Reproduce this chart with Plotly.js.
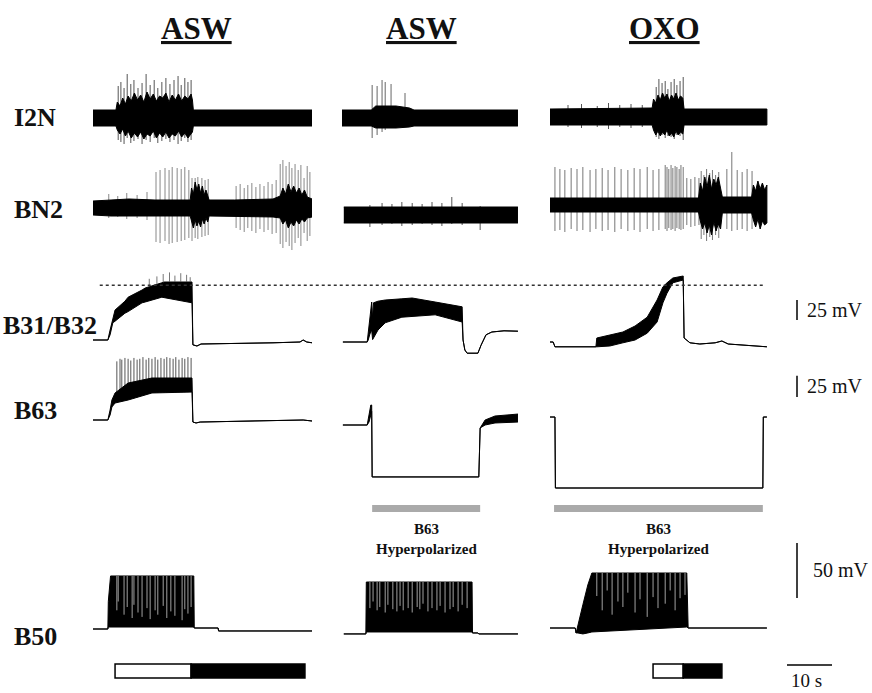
<!DOCTYPE html>
<html><head><meta charset="utf-8">
<script src="https://cdn.plot.ly/plotly-3.0.1.min.js"></script>
<style>html,body{margin:0;padding:0;background:#fff}#chart{width:872px;height:693px}</style>
</head><body><div id="chart"></div>
<script>
// ================= DATA (time in s, extracellular in a.u., intracellular in mV) =================
const columnTitles = ['ASW', 'ASW', 'OXO'];
const rowLabels = ['I2N', 'BN2', 'B31/B32', 'B63', 'B50'];

// --- I2N (extracellular) ---
const i2n1T  = [0, 5.1, 5.4, 6.0, 6.6, 7.2, 7.8, 8.5, 9.2, 9.9, 10.6, 11.3, 12.0, 12.7, 13.4, 14.1, 14.8, 15.5, 16.2, 16.9, 17.6, 18.3, 19.0, 19.7, 20.4, 21.1, 21.8, 22.1, 22.3, 48.7];
const i2n1Hi = [8, 8, 16, 12, 20, 14, 22, 17, 25, 18, 23, 16, 26, 19, 24, 17, 22, 20, 25, 16, 23, 18, 24, 17, 22, 19, 24, 18, 8, 8];
const i2n1Lo = [-8, -8, -12, -16, -11, -18, -13, -20, -15, -19, -14, -21, -16, -18, -13, -20, -15, -19, -14, -20, -16, -18, -13, -19, -15, -20, -16, -14, -8, -8];
const i2n1SpkT  = [5.6, 6.2, 6.9, 7.6, 8.4, 9.1, 10.0, 10.9, 11.8, 12.7, 13.6, 14.4, 15.3, 16.2, 17.1, 18.0, 18.9, 19.6, 20.4, 21.1, 21.8];
const i2n1SpkUp = [32, 36, 30, 44, 34, 38, 30, 35, 44, 33, 38, 30, 36, 40, 34, 38, 42, 33, 40, 36, 38];
const i2n1SpkDn = [-22, -24, -26, -20, -25, -23, -21, -26, -22, -24, -20, -25, -23, -21, -24, -22, -26, -23, -20, -24, -22];

const i2n2T  = [0, 6.5, 7.5, 12, 15, 16, 39.1];
const i2n2Hi = [8, 8, 12, 12, 10, 8, 8];
const i2n2Lo = [-8, -8, -10, -10, -9, -8, -8];
const i2n2SpkT  = [6.7, 7.8, 8.9, 9.6, 10.9, 14.0];
const i2n2SpkUp = [33, 32, 38, 36, 34, 25];
const i2n2SpkDn = [-20, -17, -14, -12, -10, -8];

const i2n3T  = [0, 20, 22.7, 23.0, 23.5, 24.0, 24.5, 25.0, 25.5, 26.0, 26.5, 27.0, 27.5, 28.0, 28.5, 29.0, 29.5, 29.8, 48.2];
const i2n3Hi = [8, 9, 9, 18, 14, 22, 17, 24, 19, 23, 16, 22, 18, 24, 17, 21, 19, 8, 8];
const i2n3Lo = [-8, -8, -8, -13, -18, -14, -19, -15, -18, -13, -19, -16, -20, -14, -18, -15, -17, -8, -8];
const i2n3SpkT  = [4, 7, 10.5, 13, 15.5, 18, 20.5, 23.6, 24.2, 24.9, 25.6, 26.2, 26.9, 27.6, 28.2, 28.9, 29.6];
const i2n3SpkUp = [12, 13, 11, 14, 12, 13, 12, 30, 38, 34, 36, 28, 35, 38, 32, 36, 40];
const i2n3SpkDn = [-10, -11, -10, -12, -10, -11, -10, -20, -22, -18, -21, -19, -20, -22, -18, -19, -23];

// --- BN2 (extracellular) ---
const bn21T  = [0, 4, 8, 13.8, 21.6, 21.9, 22.3, 22.7, 23.1, 23.5, 23.9, 24.3, 24.7, 25.1, 25.5, 25.8, 31.5, 40, 41.6, 42.2, 42.8, 43.4, 44.0, 44.6, 45.2, 45.8, 46.4, 47.0, 47.6, 48.7];
const bn21Hi = [7, 8, 9, 8, 8, 20, 14, 26, 18, 24, 15, 22, 13, 18, 12, 8, 8, 9, 12, 20, 14, 24, 16, 22, 15, 20, 13, 18, 11, 9];
const bn21Lo = [-7, -8, -8, -8, -8, -14, -20, -12, -18, -13, -19, -11, -16, -10, -14, -8, -8, -9, -10, -16, -12, -20, -14, -18, -12, -16, -11, -14, -10, -9];
const bn21SpkT  = [3.5, 5.5, 7.5, 9.8, 12.0,
  14.0, 14.9, 16.0, 16.9, 17.6, 18.7, 19.6, 20.4, 21.3, 22.0, 22.7, 23.3, 24.2, 24.9, 25.6,
  31.8, 32.7, 33.6, 34.4, 35.3, 36.2, 37.1, 38.0, 38.9, 39.8, 40.7, 41.6, 42.2, 42.9, 43.6, 44.2, 44.9, 45.6, 46.2, 46.9, 47.6, 48.2];
const bn21SpkUp = [14, 12, 15, 13, 16,
  36, 38, 40, 38, 41, 40, 39, 41, 38, 30, 30, 31, 30, 28, 29,
  22, 24, 20, 23, 25, 21, 24, 22, 26, 24, 28, 44, 48, 42, 46, 40, 44, 38, 43, 30, 42, 36];
const bn21SpkDn = [-10, -9, -11, -10, -12,
  -34, -35, -33, -36, -35, -34, -33, -32, -30, -33, -30, -31, -29, -28, -27,
  -20, -22, -24, -20, -23, -25, -21, -24, -22, -26, -25, -36, -40, -34, -38, -42, -35, -30, -38, -25, -33, -28];

const bn22T  = [0.4, 39.1];
const bn22Hi = [8, 8];
const bn22Lo = [-8, -8];
const bn22SpkT  = [6.2, 8.9, 11.1, 13.3, 15.6, 17.8, 20.0, 22.2, 24.4, 26.7, 30.7];
const bn22SpkUp = [10, 12, 11, 13, 12, 11, 13, 12, 18, 12, 9];
const bn22SpkDn = [-12, -10, -9, -11, -10, -9, -10, -11, -9, -10, -15];

const bn23T  = [0, 33.0, 33.4, 33.9, 34.4, 34.9, 35.4, 35.9, 36.4, 36.9, 37.4, 37.9, 38.3, 44.8, 45.2, 45.7, 46.2, 46.7, 47.2, 47.7, 48.2];
const bn23Hi = [7, 7, 22, 14, 28, 18, 30, 16, 26, 20, 28, 15, 8, 8, 20, 14, 24, 16, 22, 15, 20];
const bn23Lo = [-7, -7, -16, -24, -18, -28, -20, -30, -17, -26, -19, -24, -8, -8, -15, -22, -14, -24, -16, -20, -18];
const bn23SpkT  = [1.1, 2.2, 3.3, 4.7, 6.0, 7.3, 8.9, 10.2, 11.6, 12.9, 14.4, 15.8, 17.3, 18.7, 20.0, 21.6, 22.9, 24.2,
  25.6, 26.0, 26.4, 26.9, 27.3, 27.8, 28.2, 28.7, 29.1, 29.6, 30.4, 31.3, 32.2, 33.1,
  33.6, 34.2, 34.8, 35.5, 36.1, 36.8, 37.5,
  39.3, 40.4, 41.6, 42.7, 43.8, 44.9];
const bn23SpkUp = [38, 36, 35, 37, 36, 38, 35, 36, 37, 35, 38, 36, 35, 37, 36, 38, 35, 36,
  40, 38, 36, 40, 37, 39, 38, 36, 40, 38, 27, 26, 28, 27,
  34, 30, 36, 32, 35, 30, 33,
  36, 53, 35, 33, 36, 34];
const bn23SpkDn = [-26, -25, -27, -24, -26, -25, -27, -24, -26, -25, -27, -24, -26, -25, -27, -24, -26, -25,
  -24, -26, -23, -25, -24, -26, -23, -24, -25, -24, -20, -22, -21, -20,
  -34, -30, -36, -32, -35, -30, -33,
  -24, -26, -25, -24, -26, -24];

// --- B31/B32 (mV) ---
const b31_1T  = [0, 3.3, 3.8, 4.4, 4.9, 7.1, 7.8, 10.9, 11.6, 15.3, 15.8, 22.0, 22.2, 23.1, 24.0, 40.0, 46.0, 46.7, 47.5, 48.7];
const b31_1Hi = [-52.5, -52.5, -40, -24, -15, -4, 1, 10, 12.5, 19, 20, 20, -58.5, -60, -57.5, -56, -55, -52.5, -55, -56];
const b31_1Lo = [-52.5, -52.5, -46, -31, -29, -19, -17, -6, -5, 1, 1, -6, -58.5, -60, -57.5, -56, -55, -52.5, -55, -56];
const b31_1SpkT  = [12.5, 14.2, 15.6, 17.0, 18.2, 19.5, 20.8, 21.6];
const b31_1SpkPk = [24, 27, 30, 32, 28, 31, 29, 26];

const b31_2T  = [0.2, 5.6, 5.8, 6.2, 6.6, 6.8, 7.0, 8.0, 9.6, 13.3, 15.6, 20.7, 26.7, 26.9, 27.3, 27.8, 30.2, 30.9, 32.0, 33.3, 36.0, 39.1];
const b31_2Hi = [-55, -55, -45, -20, -5, -25, -6, -4, -2.5, -1, 0, -5, -11, -52.5, -65, -69, -69, -59, -46, -42.5, -41, -41.5];
const b31_2Lo = [-55, -55, -53, -45, -40, -52, -50, -40, -31, -24, -23, -21, -30, -52.5, -65, -69, -69, -59, -46, -42.5, -41, -41.5];

const b31_3T  = [0, 0.7, 1.1, 10.2, 10.4, 13.3, 16.2, 18.9, 21.6, 23.8, 25.1, 26.0, 27.3, 29.6, 29.8, 31.1, 33.3, 36.7, 38.2, 39.6, 48.2];
const b31_3Hi = [-55, -55, -61, -61, -50, -46, -42.5, -35, -24, -2.5, 14, 19, 25, 27.5, -50, -56, -57.5, -56, -53.75, -57.5, -61];
const b31_3Lo = [-55, -55, -61, -61, -61, -60, -56, -52.5, -44, -30, -6, 6, 19, 22.5, -50, -56, -57.5, -56, -53.75, -57.5, -61];

const refLevelMV = 16;          // dotted reference level on B31/B32
const refLineT = [1.5, 47.8];   // from col 1 time to col 3 time

// --- B63 (mV) ---
const b63_1T  = [0, 3.3, 3.8, 4.2, 4.9, 7.8, 13.1, 22.0, 22.2, 22.9, 23.8, 34.9, 46.7, 48.7];
const b63_1Hi = [-55, -55, -43.2, -31.5, -23.2, -11.5, -5.6, -5.6, -57.4, -58.5, -57.4, -56.2, -55, -56.2];
const b63_1Lo = [-55, -55, -49.1, -39.7, -35, -31.5, -23.2, -22.1, -57.4, -58.5, -57.4, -56.2, -55, -56.2];
const b63_1SpkT  = [5.3, 6.0, 6.4, 7.1, 7.8, 8.4, 9.1, 9.8, 10.4, 11.1, 11.8, 12.4, 13.1, 13.8, 14.4, 15.1, 15.8, 16.4, 17.1, 17.8, 18.4, 19.1, 19.8, 20.4, 21.1, 21.8];
const b63_1SpkPk = [14, 17, 16, 18, 17, 15, 18, 16, 17, 19, 16, 18, 17, 19, 16, 18, 17, 19, 18, 17, 19, 16, 18, 17, 19, 18];

const b63_2T  = [0.2, 5.6, 6.0, 6.4, 6.6, 6.7, 30.4, 30.7, 31.8, 34.0, 39.1];
const b63_2Hi = [-60.9, -60.9, -49.1, -37.4, -37.4, -122, -122, -64.4, -55, -50.3, -48];
const b63_2Lo = [-60.9, -60.9, -57.4, -49.1, -45, -122, -122, -64.4, -60.9, -58.5, -57.4];

const b63_3T  = [0, 1.1, 1.2, 47.3, 47.4, 48.2];
const b63_3Hi = [-51.5, -51.5, -135, -135, -51.5, -51.5];
const b63_3Lo = [-51.5, -51.5, -135, -135, -51.5, -51.5];

// B63 hyperpolarization periods (s): col 2 and col 3
const hyperColumns = [2, 3];
const hyperStart = [6.7, 0.9];
const hyperEnd   = [30.7, 47.3];
const hyperLabel = 'B63<br>Hyperpolarized';

// --- B50 (mV) ---
const b50_1T  = [0, 3.3, 3.4, 3.9, 22.4, 22.5, 27.8, 27.9, 48.7];
const b50_1Hi = [-55, -55, -30, -6.8, -6.8, -54.1, -54.1, -56.8, -56.8];
const b50_1Lo = [-55, -55, -53.2, -53.2, -53.2, -54.1, -54.1, -56.8, -56.8];
const b50_1GapT = [5.3, 5.6, 6.9, 7.6, 8.7, 9.1, 10.0, 10.9, 12.0, 12.7, 13.8, 14.4, 15.6, 16.4, 17.3, 18.2, 19.8, 20.4, 21.1, 21.8];
const b50_1GapV = [-38, -30, -42, -35, -45, -33, -40, -44, -36, -46, -38, -42, -34, -45, -39, -43, -47, -37, -41, -35];

const b50_2T  = [0.4, 5.3, 5.4, 28.9, 29.0, 30.2, 30.4, 39.1];
const b50_2Hi = [-59.5, -59.5, -12.3, -12.3, -58.6, -58.6, -59.5, -59.5];
const b50_2Lo = [-59.5, -59.5, -57.7, -57.7, -58.6, -58.6, -59.5, -59.5];
const b50_2GapT = [6.2, 6.9, 7.8, 8.4, 9.6, 10.2, 11.3, 12.2, 12.9, 13.6, 14.7, 15.6, 16.7, 17.3, 18.0, 19.1, 20.0, 21.1, 21.8, 22.9, 24.0, 24.7, 25.8, 26.7, 27.8];
const b50_2GapV = [-36, -30, -38, -35, -40, -33, -37, -39, -34, -38, -36, -40, -35, -37, -32, -39, -36, -38, -34, -40, -37, -35, -39, -33, -36];

const b50_3T  = [0, 5.6, 5.8, 6.2, 7.3, 8.4, 9.3, 16.2, 30.4, 30.7, 48.2];
const b50_3Hi = [-54.1, -54.1, -58.6, -51.4, -33, -15, -4.1, -4.1, -4.1, -54.1, -54.1];
const b50_3Lo = [-54.1, -54.1, -58.6, -58.6, -59.5, -58.6, -57.7, -55.9, -53.2, -54.1, -54.1];
const b50_3GapT = [10.4, 11.6, 12.7, 13.8, 15.1, 16.2, 17.3, 18.9, 20.0, 21.6, 22.9, 24.0, 25.6, 26.7, 27.8, 28.9, 30.0];
const b50_3GapV = [-25, -38, -20, -42, -30, -35, -22, -40, -28, -44, -26, -36, -32, -20, -38, -27, -24];

// --- Stimulus bars (s): open phase then filled phase ---
const stimColumns = [1, 3];
const stimStart  = [4.9, 22.9];
const stimSwitch = [21.8, 29.6];
const stimEnd    = [47.1, 38.2];

// --- Scale bars ---
const scaleTimeS = 10;
const scaleMV = [25, 25, 50];        // B31/B32, B63, B50
const scaleBarLowMV = [-27.5, -27.9, -26.8];

// ================= LAYOUT GEOMETRY =================
const W = 872, H = 693, PX_PER_S = 4.5;
const colPx = [[93, 312], [342, 518], [550, 872]];
const px = v => v / W;
const py = v => 1 - v / H;
function xAx(c) {
  return {domain: [px(colPx[c][0]), px(colPx[c][1])], range: [0, (colPx[c][1] - colPx[c][0]) / PX_PER_S],
          visible: false, fixedrange: true};
}
function yAx(top, bot, refPx, refVal, pxPerUnit) {
  return {domain: [py(bot), py(top)],
          range: [refVal - (bot - refPx) / pxPerUnit, refVal + (refPx - top) / pxPerUnit],
          visible: false, fixedrange: true};
}
const XA = ['x', 'x2', 'x3'];

// ================= HELPERS =================
function interp(ts, vs, t) {
  for (let i = 1; i < ts.length; i++) {
    if (t <= ts[i]) { const f = (t - ts[i - 1]) / (ts[i] - ts[i - 1] || 1); return vs[i - 1] + f * (vs[i] - vs[i - 1]); }
  }
  return vs[vs.length - 1];
}
function band(ts, hi, lo, xa, ya, color) {
  return {type: 'scatter', mode: 'lines', x: ts.concat(ts.slice().reverse()), y: hi.concat(lo.slice().reverse()),
          fill: 'toself', fillcolor: color, line: {color: color, width: 1}, xaxis: xa, yaxis: ya, hoverinfo: 'skip'};
}
function sticks(ts, a, b, xa, ya, color, w) {
  const x = [], y = [];
  ts.forEach((t, i) => { x.push(t, t, null); y.push(a[i], b[i], null); });
  return {type: 'scatter', mode: 'lines', x, y, line: {color, width: w}, xaxis: xa, yaxis: ya, hoverinfo: 'skip'};
}

// ================= TRACES =================
const traces = [];
// I2N
traces.push(sticks(i2n1SpkT, i2n1SpkDn, i2n1SpkUp, 'x', 'y', '#555', 1));
traces.push(band(i2n1T, i2n1Hi, i2n1Lo, 'x', 'y', '#000'));
traces.push(sticks(i2n2SpkT, i2n2SpkDn, i2n2SpkUp, 'x2', 'y2', '#666', 1));
traces.push(band(i2n2T, i2n2Hi, i2n2Lo, 'x2', 'y2', '#000'));
traces.push(sticks(i2n3SpkT, i2n3SpkDn, i2n3SpkUp, 'x3', 'y3', '#555', 1));
traces.push(band(i2n3T, i2n3Hi, i2n3Lo, 'x3', 'y3', '#000'));
// BN2
traces.push(sticks(bn21SpkT, bn21SpkDn, bn21SpkUp, 'x', 'y4', '#888', 1));
traces.push(band(bn21T, bn21Hi, bn21Lo, 'x', 'y4', '#000'));
traces.push(sticks(bn22SpkT, bn22SpkDn, bn22SpkUp, 'x2', 'y5', '#555', 1));
traces.push(band(bn22T, bn22Hi, bn22Lo, 'x2', 'y5', '#000'));
traces.push(sticks(bn23SpkT, bn23SpkDn, bn23SpkUp, 'x3', 'y6', '#777', 1));
traces.push(band(bn23T, bn23Hi, bn23Lo, 'x3', 'y6', '#000'));
// B31/B32
traces.push(band(b31_1T, b31_1Hi, b31_1Lo, 'x', 'y7', '#000'));
traces.push(sticks(b31_1SpkT, b31_1SpkT.map(t => interp(b31_1T, b31_1Hi, t)), b31_1SpkPk, 'x', 'y7', '#555', 0.8));
traces.push(band(b31_2T, b31_2Hi, b31_2Lo, 'x2', 'y7', '#000'));
traces.push(band(b31_3T, b31_3Hi, b31_3Lo, 'x3', 'y7', '#000'));
// B63
traces.push(sticks(b63_1SpkT, b63_1SpkT.map(t => interp(b63_1T, b63_1Lo, t)), b63_1SpkPk, 'x', 'y8', '#555', 1));
traces.push(band(b63_1T, b63_1Hi, b63_1Lo, 'x', 'y8', '#000'));
traces.push(band(b63_2T, b63_2Hi, b63_2Lo, 'x2', 'y8', '#000'));
traces.push(band(b63_3T, b63_3Hi, b63_3Lo, 'x3', 'y8', '#000'));
// B50
traces.push(band(b50_1T, b50_1Hi, b50_1Lo, 'x', 'y9', '#000'));
traces.push(sticks(b50_1GapT, b50_1GapT.map(t => interp(b50_1T, b50_1Hi, t)), b50_1GapV, 'x', 'y9', '#a0a0a0', 1));
traces.push(band(b50_2T, b50_2Hi, b50_2Lo, 'x2', 'y9', '#000'));
traces.push(sticks(b50_2GapT, b50_2GapT.map(t => interp(b50_2T, b50_2Hi, t)), b50_2GapV, 'x2', 'y9', '#a0a0a0', 1));
traces.push(band(b50_3T, b50_3Hi, b50_3Lo, 'x3', 'y9', '#000'));
traces.push(sticks(b50_3GapT, b50_3GapT.map(t => interp(b50_3T, b50_3Hi, t)), b50_3GapV, 'x3', 'y9', '#a0a0a0', 1));

// ================= SHAPES & ANNOTATIONS =================
const shapes = [];
const annotations = [];
const serif = 'Liberation Serif, serif';

// dotted reference line across columns
function tToPaper(c, t) { const a = xAx(c); return a.domain[0] + (t / a.range[1]) * (a.domain[1] - a.domain[0]); }
shapes.push({type: 'line', xref: 'paper', yref: 'y7', x0: tToPaper(0, refLineT[0]), x1: tToPaper(2, refLineT[1]),
             y0: refLevelMV, y1: refLevelMV, line: {color: '#333', width: 1.5, dash: 'dot'}});

// hyperpolarization bars + labels
hyperColumns.forEach((c, i) => {
  shapes.push({type: 'rect', xref: XA[c - 1], yref: 'paper', x0: hyperStart[i], x1: hyperEnd[i], y0: py(512), y1: py(505),
               fillcolor: '#aaaaaa', line: {width: 0}});
  annotations.push({xref: XA[c - 1], yref: 'paper', x: (hyperStart[i] + hyperEnd[i]) / 2, y: py(539), text: '<b>' + hyperLabel + '</b>',
                    showarrow: false, xanchor: 'center', yanchor: 'middle', font: {family: serif, size: 15, color: '#111'}});
});

// stimulus bars
stimColumns.forEach((c, i) => {
  shapes.push({type: 'rect', xref: XA[c - 1], yref: 'paper', x0: stimStart[i], x1: stimSwitch[i], y0: py(678), y1: py(664),
               fillcolor: '#fff', line: {color: '#000', width: 1.5}});
  shapes.push({type: 'rect', xref: XA[c - 1], yref: 'paper', x0: stimSwitch[i], x1: stimEnd[i], y0: py(678), y1: py(664),
               fillcolor: '#000', line: {color: '#000', width: 1.5}});
});

// voltage scale bars
const scaleAxes = ['y7', 'y8', 'y9'];
const scaleBarT = (797 - colPx[2][0]) / PX_PER_S;
const scaleTextT = [(805 - colPx[2][0]) / PX_PER_S, (805 - colPx[2][0]) / PX_PER_S, (811 - colPx[2][0]) / PX_PER_S];
scaleMV.forEach((mv, i) => {
  shapes.push({type: 'line', xref: 'x3', yref: scaleAxes[i], x0: scaleBarT, x1: scaleBarT,
               y0: scaleBarLowMV[i], y1: scaleBarLowMV[i] + mv, line: {color: '#000', width: 1.5}});
  annotations.push({xref: 'x3', yref: scaleAxes[i], x: scaleTextT[i], y: scaleBarLowMV[i] + mv / 2, text: mv + ' mV',
                    showarrow: false, xanchor: 'left', yanchor: 'middle', font: {family: serif, size: 20, color: '#111'}});
});
// time scale bar
const tBar0 = (787 - colPx[2][0]) / PX_PER_S;
shapes.push({type: 'line', xref: 'x3', yref: 'paper', x0: tBar0, x1: tBar0 + scaleTimeS, y0: py(665), y1: py(665),
             line: {color: '#000', width: 1.5}});
annotations.push({xref: 'x3', yref: 'paper', x: tBar0 + scaleTimeS / 2 - 0.6, y: py(680), text: scaleTimeS + ' s',
                  showarrow: false, xanchor: 'center', yanchor: 'middle', font: {family: serif, size: 19, color: '#111'}});

// column headers
const headerT = [(196 - colPx[0][0]) / PX_PER_S, (421 - colPx[1][0]) / PX_PER_S, (664 - colPx[2][0]) / PX_PER_S];
columnTitles.forEach((s, i) => {
  annotations.push({xref: XA[i], yref: 'paper', x: headerT[i], y: py(28), text: '<b><u>' + s + '</u></b>',
                    showarrow: false, xanchor: 'center', yanchor: 'middle', font: {family: serif, size: 31, color: '#111'}});
});
// row labels
const rowLabelPx = [[12, 118], [12, 209], [1, 325], [12, 410], [12, 636]];
rowLabels.forEach((s, i) => {
  annotations.push({xref: 'paper', yref: 'paper', x: px(rowLabelPx[i][0]), y: py(rowLabelPx[i][1]), text: '<b>' + s + '</b>',
                    showarrow: false, xanchor: 'left', yanchor: 'middle', font: {family: serif, size: 26, color: '#111'}});
});

const layout = {
  width: W, height: H, margin: {l: 0, r: 0, t: 0, b: 0, pad: 0},
  paper_bgcolor: '#fff', plot_bgcolor: 'rgba(0,0,0,0)', showlegend: false,
  font: {family: serif},
  xaxis: xAx(0), xaxis2: xAx(1), xaxis3: xAx(2),
  yaxis:  yAx(60, 180, 118, 0, 1),
  yaxis2: yAx(60, 180, 118, 0, 1),
  yaxis3: yAx(60, 180, 117, 0, 1),
  yaxis4: yAx(140, 265, 208, 0, 1),
  yaxis5: yAx(140, 265, 215, 0, 1),
  yaxis6: yAx(140, 265, 205, 0, 1),
  yaxis7: yAx(262, 372, 342, -55, 0.8),
  yaxis8: yAx(350, 500, 420, -55, 0.85),
  yaxis9: yAx(535, 645, 629, -55, 1.1),
  shapes, annotations
};
Plotly.newPlot('chart', traces, layout, {staticPlot: true, displayModeBar: false});
</script></body></html>
